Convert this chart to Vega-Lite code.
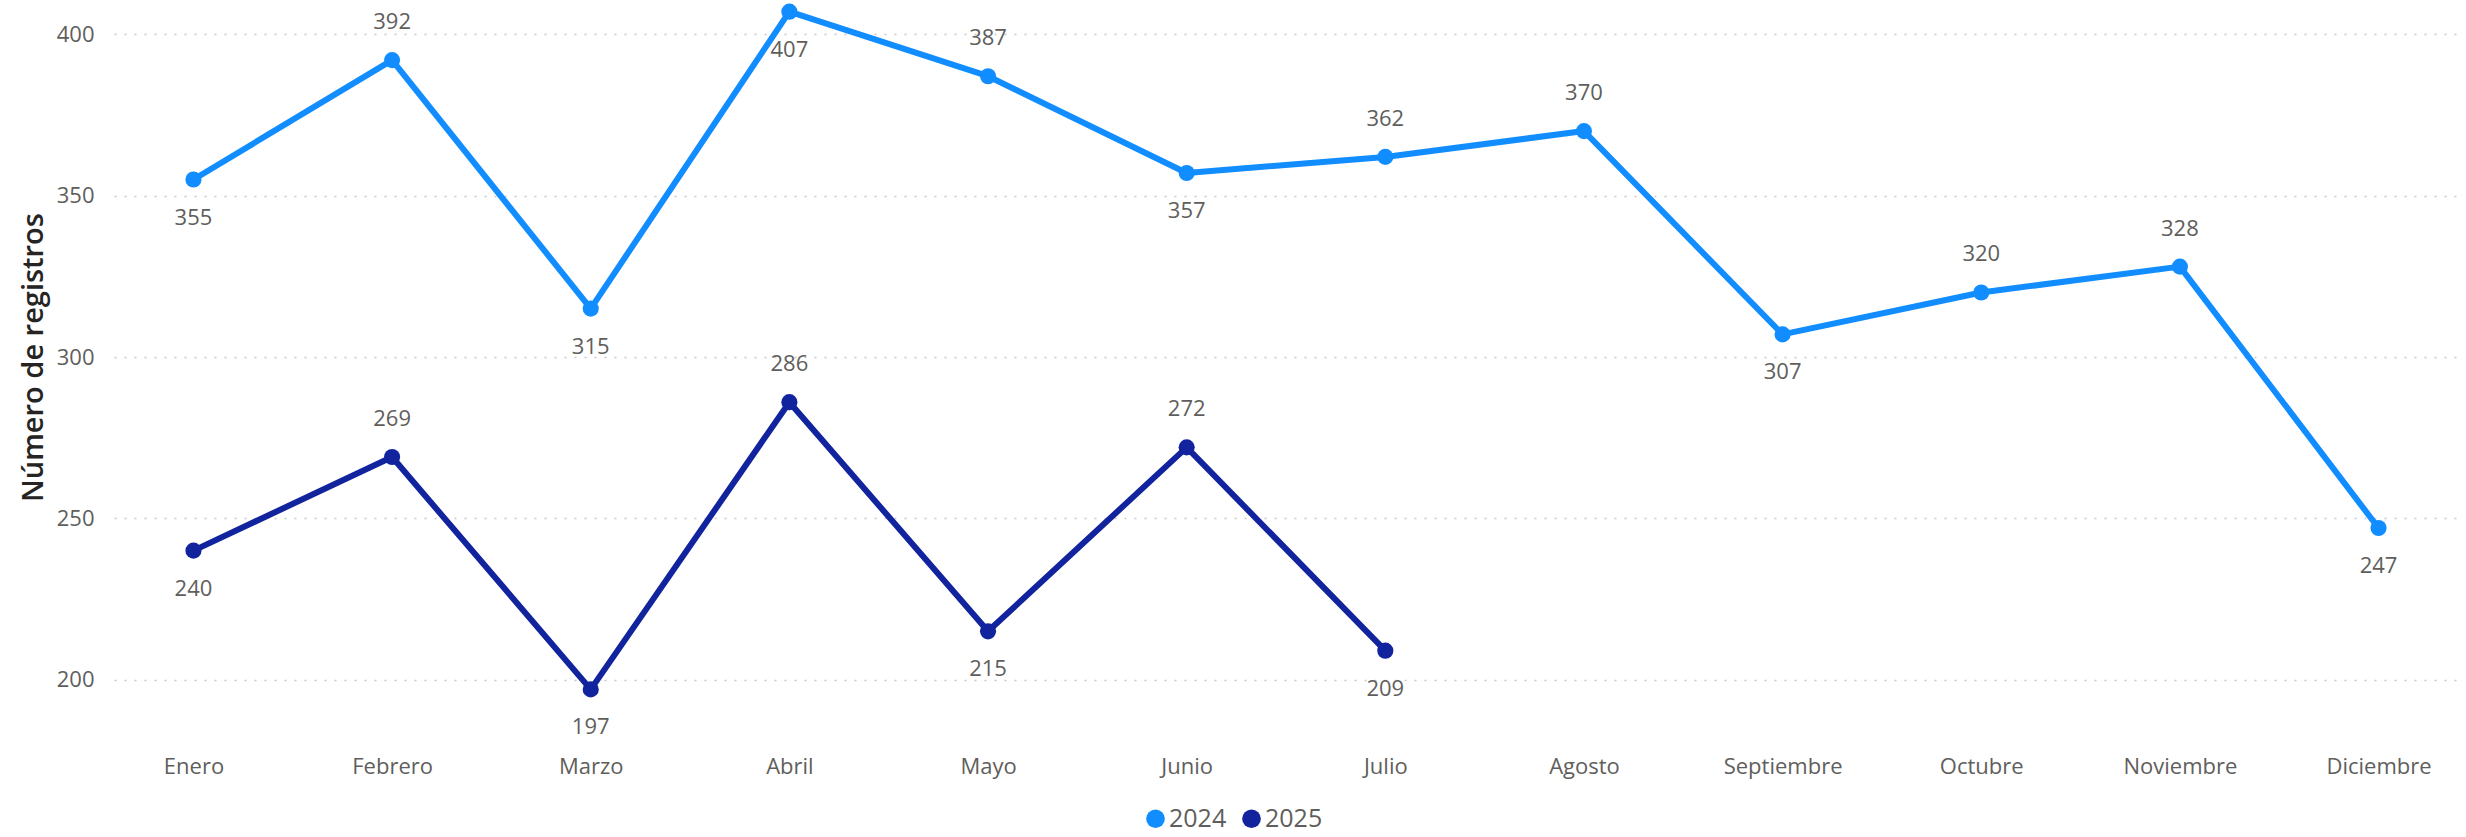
{
  "$schema": "https://vega.github.io/schema/vega-lite/v6.json",
  "width": 2344,
  "height": 710,
  "autosize": {"type": "none"},
  "padding": {"left": 114, "top": 2, "right": 8, "bottom": 125},
  "background": "white",
  "config": {"view": {"stroke": null}, "font": "Segoe UI, Open Sans, sans-serif"},
  "data": {
    "values": [
      {"anio": "2024", "mes": "Enero", "registros": 355},
      {"anio": "2024", "mes": "Febrero", "registros": 392},
      {"anio": "2024", "mes": "Marzo", "registros": 315},
      {"anio": "2024", "mes": "Abril", "registros": 407},
      {"anio": "2024", "mes": "Mayo", "registros": 387},
      {"anio": "2024", "mes": "Junio", "registros": 357},
      {"anio": "2024", "mes": "Julio", "registros": 362},
      {"anio": "2024", "mes": "Agosto", "registros": 370},
      {"anio": "2024", "mes": "Septiembre", "registros": 307},
      {"anio": "2024", "mes": "Octubre", "registros": 320},
      {"anio": "2024", "mes": "Noviembre", "registros": 328},
      {"anio": "2024", "mes": "Diciembre", "registros": 247},
      {"anio": "2025", "mes": "Enero", "registros": 240},
      {"anio": "2025", "mes": "Febrero", "registros": 269},
      {"anio": "2025", "mes": "Marzo", "registros": 197},
      {"anio": "2025", "mes": "Abril", "registros": 286},
      {"anio": "2025", "mes": "Mayo", "registros": 215},
      {"anio": "2025", "mes": "Junio", "registros": 272},
      {"anio": "2025", "mes": "Julio", "registros": 209}
    ]
  },
  "encoding": {
    "x": {
      "field": "mes",
      "type": "nominal",
      "sort": ["Enero", "Febrero", "Marzo", "Abril", "Mayo", "Junio", "Julio", "Agosto", "Septiembre", "Octubre", "Noviembre", "Diciembre"],
      "scale": {"type": "point", "padding": 0.4},
      "axis": {"title": null, "labelAngle": 0, "labelFontSize": 22, "labelColor": "#605E5C", "labelPadding": 44, "ticks": false, "domain": false, "grid": false}
    },
    "y": {
      "field": "registros",
      "type": "quantitative",
      "scale": {"domain": [190, 410], "nice": false, "zero": false},
      "axis": {
        "title": "Número de registros",
        "values": [200, 250, 300, 350, 400],
        "labelFontSize": 22,
        "labelColor": "#605E5C",
        "labelPadding": 20,
        "ticks": false,
        "domain": false,
        "gridDash": [2, 8],
        "gridColor": "#c8c8c8",
        "gridWidth": 1.5,
        "titleFontSize": 29,
        "titleFontWeight": 600,
        "titleColor": "#252423",
        "titlePadding": 8
      }
    },
    "color": {
      "field": "anio",
      "type": "nominal",
      "scale": {"domain": ["2024", "2025"], "range": ["#118DFF", "#12239E"]},
      "legend": {
        "orient": "none",
        "legendX": 1029,
        "legendY": 804,
        "direction": "horizontal",
        "title": null,
        "symbolType": "circle",
        "symbolSize": 350,
        "symbolStrokeWidth": 0,
        "labelFontSize": 25,
        "labelColor": "#605E5C",
        "columnPadding": 12,
        "labelOffset": 1
      }
    }
  },
  "layer": [
    {
      "mark": {"type": "line", "strokeWidth": 6, "strokeJoin": "round"}
    },
    {
      "mark": {"type": "point", "filled": true, "opacity": 1, "size": 260, "shape": "circle"}
    },
    {
      "transform": [{"filter": "indexof(['2024Febrero','2024Mayo','2024Julio','2024Agosto','2024Octubre','2024Noviembre','2025Febrero','2025Abril','2025Junio'], datum.anio + datum.mes) >= 0"}],
      "mark": {"type": "text", "dy": -38, "fontSize": 22, "baseline": "middle"},
      "encoding": {"text": {"field": "registros"}, "color": {"value": "#605E5C"}}
    },
    {
      "transform": [{"filter": "indexof(['2024Febrero','2024Mayo','2024Julio','2024Agosto','2024Octubre','2024Noviembre','2025Febrero','2025Abril','2025Junio'], datum.anio + datum.mes) < 0"}],
      "mark": {"type": "text", "dy": 38, "fontSize": 22, "baseline": "middle"},
      "encoding": {"text": {"field": "registros"}, "color": {"value": "#605E5C"}}
    }
  ]
}
